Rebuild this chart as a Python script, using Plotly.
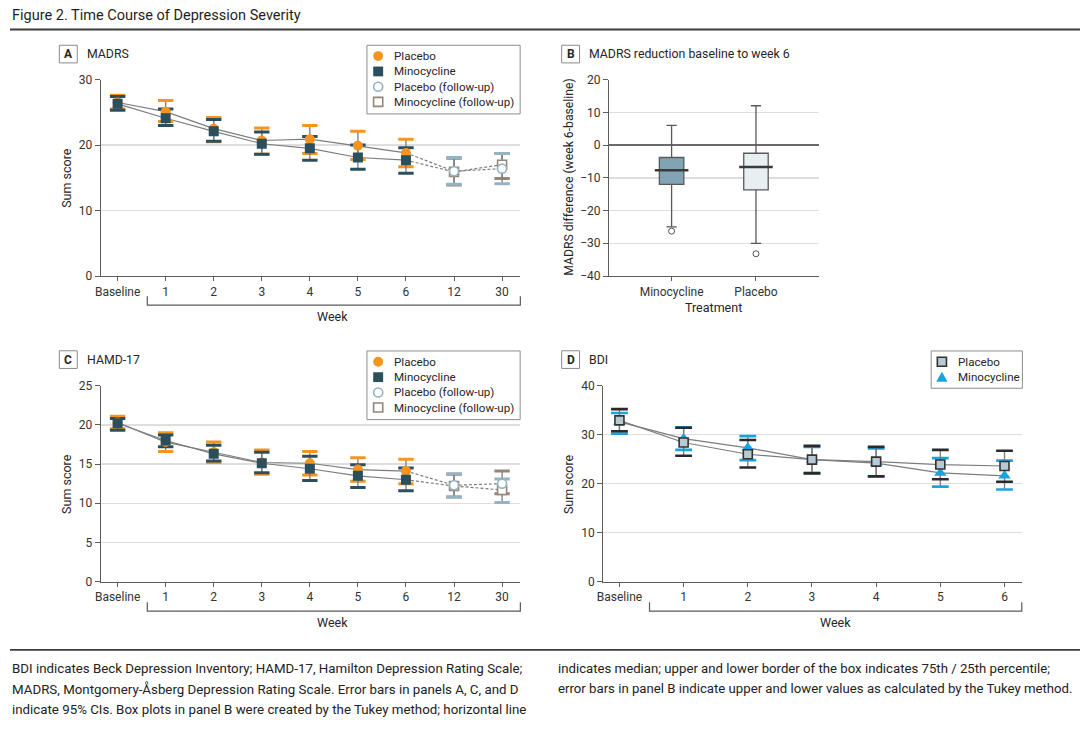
import plotly.graph_objects as go

# ---------------- data ----------------
weeks = ["Baseline", "1", "2", "3", "4", "5", "6"]
weeks_fu = ["12", "30"]
all_weeks = weeks + weeks_fu

# Panel A: MADRS
madrs_pla_mean = [26.5, 25.1, 22.5, 20.7, 20.9, 19.9, 18.8]
madrs_pla_lo = [25.5, 23.6, 20.5, 18.6, 18.7, 17.8, 16.7]
madrs_pla_hi = [27.6, 26.8, 24.2, 22.6, 23.0, 22.1, 20.9]
madrs_min_mean = [26.3, 24.1, 22.1, 20.2, 19.5, 18.1, 17.7]
madrs_min_lo = [25.3, 23.0, 20.6, 18.6, 17.7, 16.3, 15.7]
madrs_min_hi = [27.4, 25.5, 23.9, 22.0, 21.3, 20.0, 19.6]
madrs_pla_fu_mean = [16.0, 16.4]
madrs_pla_fu_lo = [14.0, 14.1]
madrs_pla_fu_hi = [18.1, 18.7]
madrs_min_fu_mean = [15.9, 17.0]
madrs_min_fu_lo = [13.9, 14.9]
madrs_min_fu_hi = [18.0, 18.7]

# Panel B: MADRS reduction (Tukey box plots)
box_groups = ["Minocycline", "Placebo"]
box_q1 = [-12.0, -13.7]
box_median = [-7.7, -6.7]
box_q3 = [-3.8, -2.5]
box_lowerfence = [-25.0, -30.0]
box_upperfence = [6.0, 12.0]
box_outliers = [-26.3, -33.2]

# Panel C: HAMD-17
hamd_pla_mean = [20.3, 17.8, 16.5, 15.2, 15.1, 14.3, 14.1]
hamd_pla_lo = [19.5, 16.6, 15.2, 13.7, 13.6, 12.8, 12.5]
hamd_pla_hi = [21.1, 19.0, 17.8, 16.8, 16.6, 15.8, 15.6]
hamd_min_mean = [20.2, 18.0, 16.3, 15.1, 14.4, 13.5, 13.0]
hamd_min_lo = [19.3, 17.2, 15.4, 13.9, 12.9, 12.0, 11.6]
hamd_min_hi = [20.8, 18.7, 17.4, 16.5, 16.0, 14.9, 14.5]
hamd_pla_fu_mean = [12.3, 12.5]
hamd_pla_fu_lo = [10.8, 10.1]
hamd_pla_fu_hi = [13.75, 13.1]
hamd_min_fu_mean = [12.2, 11.7]
hamd_min_fu_lo = [10.8, 11.2]
hamd_min_fu_hi = [13.7, 14.1]

# Panel D: BDI
bdi_pla_mean = [32.9, 28.4, 26.0, 24.9, 24.5, 23.9, 23.6]
bdi_pla_lo = [30.7, 25.7, 23.3, 22.1, 21.5, 20.9, 20.4]
bdi_pla_hi = [35.2, 31.4, 28.9, 27.7, 27.5, 26.9, 26.7]
bdi_min_mean = [32.6, 29.2, 27.3, 24.9, 24.2, 22.2, 21.6]
bdi_min_lo = [30.2, 26.9, 24.8, 22.2, 21.4, 19.4, 18.8]
bdi_min_hi = [34.4, 31.5, 29.7, 27.5, 27.2, 25.2, 24.7]

# legend labels
leg_line_labels = ["Placebo", "Minocycline", "Placebo (follow-up)", "Minocycline (follow-up)"]
leg_bdi_labels = ["Placebo", "Minocycline"]

# ---------------- style ----------------
W, H = 1080, 729
FONT = "Roboto, 'Liberation Sans', sans-serif"
TXT = "#262626"
GRID = "#dedede"
AXIS = "#5c5c5c"
LINEC = "#7d7d7d"
STEM = "#7a7a7a"
ORANGE = "#f7941d"
TEAL = "#2b4f5c"
FU_BLUE = "#93b4c4"
FU_BROWN = "#948679"
BDI_BLUE = "#19a4e0"
BDI_DARK = "#2a2a2a"
BDI_SQ = "#b7c9d2"


def X(px):
    return px / W


def Y(py):
    return 1 - py / H


fig = go.Figure()


def add_lines(xa, ya, x, y, dash="solid"):
    fig.add_trace(go.Scatter(x=x, y=y, mode="lines", xaxis=xa, yaxis=ya,
                             line=dict(color=LINEC, width=1.2, dash=dash),
                             showlegend=False, hoverinfo="skip"))


def add_errors(xa, ya, x, mean, lo, hi, capcolor, capw=11, capt=3):
    fig.add_trace(go.Scatter(
        x=x, y=mean, mode="markers", xaxis=xa, yaxis=ya,
        marker=dict(size=1, color="rgba(0,0,0,0)"),
        error_y=dict(type="data", symmetric=False,
                     array=[h - m for h, m in zip(hi, mean)],
                     arrayminus=[m - l for m, l in zip(mean, lo)],
                     color=STEM, thickness=1.3, width=0),
        showlegend=False, hoverinfo="skip"))
    fig.add_trace(go.Scatter(
        x=list(x) + list(x), y=list(lo) + list(hi), mode="markers",
        xaxis=xa, yaxis=ya,
        marker=dict(symbol="line-ew", size=capw,
                    line=dict(width=capt, color=capcolor)),
        showlegend=False, hoverinfo="skip"))


def add_markers(xa, ya, x, y, name, marker):
    fig.add_trace(go.Scatter(x=x, y=y, mode="markers", xaxis=xa, yaxis=ya,
                             name=name, marker=marker, showlegend=False))


def line_panel(xa, ya, pla, pla_lo, pla_hi, mn, mn_lo, mn_hi,
               pfu, pfu_lo, pfu_hi, mfu, mfu_lo, mfu_hi):
    add_lines(xa, ya, weeks, pla)
    add_lines(xa, ya, weeks, mn)
    add_lines(xa, ya, [weeks[-1]] + weeks_fu, [pla[-1]] + pfu, dash="3px,2px")
    add_lines(xa, ya, [weeks[-1]] + weeks_fu, [mn[-1]] + mfu, dash="3px,2px")
    add_errors(xa, ya, weeks, pla, pla_lo, pla_hi, ORANGE)
    add_errors(xa, ya, weeks, mn, mn_lo, mn_hi, TEAL)
    add_errors(xa, ya, weeks_fu, mfu, mfu_lo, mfu_hi, FU_BROWN)
    add_errors(xa, ya, weeks_fu, pfu, pfu_lo, pfu_hi, FU_BLUE)
    add_markers(xa, ya, weeks, pla, leg_line_labels[0],
                dict(symbol="circle", size=10, color=ORANGE))
    add_markers(xa, ya, weeks, mn, leg_line_labels[1],
                dict(symbol="square", size=10, color=TEAL))
    add_markers(xa, ya, weeks_fu, mfu, leg_line_labels[3],
                dict(symbol="square", size=9, color="white",
                     line=dict(width=1.6, color=FU_BROWN)))
    add_markers(xa, ya, weeks_fu, pfu, leg_line_labels[2],
                dict(symbol="circle", size=9, color="white",
                     line=dict(width=1.6, color=FU_BLUE)))


# Panel A
line_panel("x", "y",
           madrs_pla_mean, madrs_pla_lo, madrs_pla_hi,
           madrs_min_mean, madrs_min_lo, madrs_min_hi,
           madrs_pla_fu_mean, madrs_pla_fu_lo, madrs_pla_fu_hi,
           madrs_min_fu_mean, madrs_min_fu_lo, madrs_min_fu_hi)

# Panel C
line_panel("x3", "y3",
           hamd_pla_mean, hamd_pla_lo, hamd_pla_hi,
           hamd_min_mean, hamd_min_lo, hamd_min_hi,
           hamd_pla_fu_mean, hamd_pla_fu_lo, hamd_pla_fu_hi,
           hamd_min_fu_mean, hamd_min_fu_lo, hamd_min_fu_hi)

# Panel B
box_fill = ["#80a4b4", "#e8eff2"]
for i, g in enumerate(box_groups):
    fig.add_trace(go.Box(
        x=[g], q1=[box_q1[i]], median=[box_median[i]], q3=[box_q3[i]],
        lowerfence=[box_lowerfence[i]], upperfence=[box_upperfence[i]],
        xaxis="x2", yaxis="y2", fillcolor=box_fill[i],
        line=dict(color="#585858", width=1.3), width=0.29,
        whiskerwidth=0.42, boxpoints=False, showlegend=False,
        hoverinfo="skip"))
fig.add_trace(go.Scatter(
    x=box_groups, y=box_median, mode="markers", xaxis="x2", yaxis="y2",
    marker=dict(symbol="line-ew", size=24, line=dict(width=2.6, color="#3a3a3a")),
    showlegend=False, hoverinfo="skip"))
fig.add_trace(go.Scatter(
    x=box_groups, y=box_outliers, mode="markers", xaxis="x2", yaxis="y2",
    marker=dict(symbol="circle-open", size=6, color="#555",
                line=dict(width=1, color="#555")),
    showlegend=False, hoverinfo="skip"))

# Panel D
add_lines("x4", "y4", weeks, bdi_pla_mean)
add_lines("x4", "y4", weeks, bdi_min_mean)
add_errors("x4", "y4", weeks, bdi_min_mean, bdi_min_lo, bdi_min_hi, BDI_BLUE, capw=12, capt=2.6)
add_errors("x4", "y4", weeks, bdi_pla_mean, bdi_pla_lo, bdi_pla_hi, BDI_DARK, capw=12, capt=2.6)
add_markers("x4", "y4", weeks, bdi_min_mean, leg_bdi_labels[1],
            dict(symbol="triangle-up", size=11, color=BDI_BLUE))
add_markers("x4", "y4", weeks, bdi_pla_mean, leg_bdi_labels[0],
            dict(symbol="square", size=9, color=BDI_SQ,
                 line=dict(width=1.6, color="#333333")))

# ---------------- axes ----------------
tickfont = dict(family=FONT, size=12, color="#333333")


def xax(domain, cats, rng, anchor):
    return dict(domain=domain, anchor=anchor, type="category",
                categoryorder="array", categoryarray=cats, range=rng,
                showline=True, linecolor=AXIS, linewidth=1.2,
                ticks="outside", ticklen=4, tickcolor=AXIS, tickwidth=1,
                showgrid=False, zeroline=False, tickfont=tickfont, fixedrange=True)


def yax(domain, rng, dtick, anchor, zeroline=False):
    return dict(domain=domain, anchor=anchor, range=rng, dtick=dtick,
                tick0=0, showline=True, linecolor=AXIS, linewidth=1.2,
                ticks="outside", ticklen=5, tickcolor=AXIS, tickwidth=1,
                showgrid=True, gridcolor=GRID, gridwidth=1.5,
                zeroline=zeroline, zerolinecolor="#6a6a6a", zerolinewidth=1.3,
                tickfont=tickfont, fixedrange=True)


top_dom = [Y(274.3), Y(74)]
bot_dom = [Y(586), Y(386)]
fig.update_layout(
    xaxis=xax([X(94.4), X(516.7)], all_weeks, [-0.35, 8.38], "y"),
    yaxis=yax(top_dom, [0, 30], 10, "x"),
    xaxis2=xax([X(606.1), X(817.2)], box_groups, [-0.74, 1.746], "y2"),
    yaxis2=yax(top_dom, [-40, 20], 10, "x2", zeroline=True),
    xaxis3=xax([X(94.4), X(516.7)], all_weeks, [-0.35, 8.38], "y3"),
    yaxis3=yax(bot_dom, [0, 25], 5, "x3"),
    xaxis4=xax([X(600.3), X(1022.1)], weeks, [-0.25, 6.28], "y4"),
    yaxis4=yax(bot_dom, [0, 40], 10, "x4"),
)

# ---------------- text & shapes ----------------
ann = []
shapes = []


def text(px, py, s, size=12.5, xanchor="left", angle=0, color=TXT, bold=False):
    ann.append(dict(x=X(px), y=Y(py), xref="paper", yref="paper", text=s,
                    showarrow=False, xanchor=xanchor, yanchor="middle",
                    textangle=angle,
                    font=dict(family=FONT, size=size, color=color,
                              weight="bold" if bold else "normal")))


def glyph(kind, cx, cy, fill, line_color=None, lw=0, r=5):
    common = dict(xref="paper", yref="paper", fillcolor=fill,
                  line=dict(color=line_color or fill, width=lw))
    if kind == "circle":
        shapes.append(dict(type="circle", x0=X(cx - r), x1=X(cx + r),
                           y0=Y(cy + r), y1=Y(cy - r), **common))
    elif kind == "square":
        shapes.append(dict(type="rect", x0=X(cx - r), x1=X(cx + r),
                           y0=Y(cy + r), y1=Y(cy - r), **common))
    elif kind == "triangle":
        path = (f"M {X(cx - r * 1.15)},{Y(cy + r * 0.9)} L {X(cx + r * 1.15)},{Y(cy + r * 0.9)} "
                f"L {X(cx)},{Y(cy - r * 1.1)} Z")
        shapes.append(dict(type="path", path=path, **common))


def legend_box(x0, y0, x1, y1):
    shapes.append(dict(type="rect", xref="paper", yref="paper",
                       x0=X(x0), x1=X(x1), y0=Y(y1), y1=Y(y0),
                       line=dict(color="#8c8c8c", width=1), fillcolor="white"))


# legends for A and C
for top in (39, 350.7):
    legend_box(362.3, top, 516.5, top + 70)
    ys = [top + 11, top + 26.7, top + 42.3, top + 57.7]
    glyph("circle", 373.6, ys[0], ORANGE, r=5)
    glyph("square", 373.6, ys[1], TEAL, r=5)
    glyph("circle", 373.6, ys[2], "white", FU_BLUE, 1.6, r=4.6)
    glyph("square", 373.6, ys[3], "white", FU_BROWN, 1.6, r=4.6)
    for lab, yy in zip(leg_line_labels, ys):
        text(387.4, yy, lab, size=11.6)

# legend for D
legend_box(930.2, 350.7, 1022, 388.7)
glyph("square", 941, 361.7, BDI_SQ, "#333333", 1.6, r=4.6)
glyph("triangle", 941, 377.5, BDI_BLUE, r=5)
text(955, 361.7, leg_bdi_labels[0], size=11.6)
text(955, 377.3, leg_bdi_labels[1], size=11.6)

text(3, 9, "Figure 2. Time Course of Depression Severity", size=14.5, color="#1e1e1e")
shapes.append(dict(type="line", xref="paper", yref="paper", x0=X(3), x1=X(1080),
                   y0=Y(23), y1=Y(23), line=dict(color="#3c3c3c", width=2)))

for lab, bx, by, title in [("A", 52.7, 39, "MADRS"),
                           ("B", 558.3, 39, "MADRS reduction baseline to week 6"),
                           ("C", 52.7, 350.5, "HAMD-17"),
                           ("D", 558.3, 350.5, "BDI")]:
    shapes.append(dict(type="rect", xref="paper", yref="paper",
                       x0=X(bx), x1=X(bx + 18), y0=Y(by), y1=Y(by + 18),
                       line=dict(color="#8a8a8a", width=1), fillcolor="white"))
    text(bx + 9, by + 9, lab, size=12, xanchor="center", bold=True)
    text(bx + 25.5, by + 9, title, size=12.3)

text(59.6, 174, "Sum score", angle=-90, xanchor="center")
text(59.6, 486, "Sum score", angle=-90, xanchor="center")
text(565.1, 486, "Sum score", angle=-90, xanchor="center")
text(565.8, 174, "MADRS difference (week 6-baseline)", angle=-90, xanchor="center", size=12.2)
text(328, 316, "Week", xanchor="center")
text(328, 627.5, "Week", xanchor="center")
text(833.7, 627.5, "Week", xanchor="center")
text(711, 306, "Treatment", xanchor="center")


def bracket(x0, x1, ybase, up=9):
    path = (f"M {X(x0)},{Y(ybase - up)} L {X(x0)},{Y(ybase)} "
            f"L {X(x1)},{Y(ybase)} L {X(x1)},{Y(ybase - up)}")
    shapes.append(dict(type="path", xref="paper", yref="paper", path=path,
                       line=dict(color="#5a5a5a", width=1.2)))


bracket(141.2, 516.7, 304)
bracket(141.2, 516.7, 616)
bracket(646.7, 1021.4, 616)

shapes.append(dict(type="line", xref="paper", yref="paper", x0=X(3), x1=X(1080),
                   y0=Y(655.5), y1=Y(655.5), line=dict(color="#3c3c3c", width=1.6)))

cap1 = ["BDI indicates Beck Depression Inventory; HAMD-17, Hamilton Depression Rating Scale;",
        "MADRS, Montgomery-Åsberg Depression Rating Scale. Error bars in panels A, C, and D",
        "indicate 95% CIs. Box plots in panel B were created by the Tukey method; horizontal line"]
cap2 = ["indicates median; upper and lower border of the box indicates 75th / 25th percentile;",
        "error bars in panel B indicate upper and lower values as calculated by the Tukey method."]
for i, s in enumerate(cap1):
    text(3, 674 + 21 * i, s, size=13.3, color="#222")
for i, s in enumerate(cap2):
    text(553, 674 + 21 * i, s, size=13.2, color="#222")

fig.update_layout(
    width=W, height=H, margin=dict(l=0, r=0, t=0, b=0),
    paper_bgcolor="white", plot_bgcolor="white",
    annotations=ann, shapes=shapes,
    font=dict(family=FONT, color=TXT),
    hovermode=False, showlegend=False,
)

fig.write_html("out.html",
               config={"displayModeBar": False, "staticPlot": True},
               post_script="document.body.style.margin='0px';document.body.style.padding='0px';"
                           "document.documentElement.style.overflow='hidden';")
